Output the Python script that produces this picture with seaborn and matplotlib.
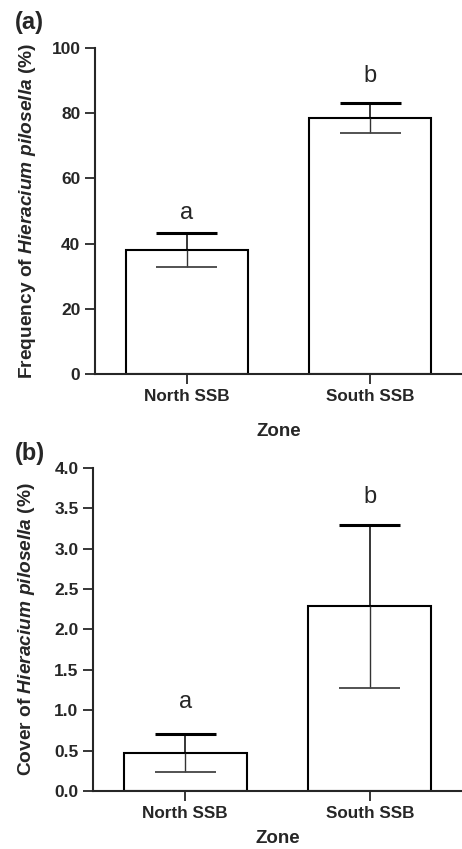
import numpy as np
import pandas as pd
import seaborn as sns
import matplotlib.pyplot as plt

zones = ["North SSB", "South SSB"]
freq_mean = [38.0, 78.5]
freq_se = [5.2, 4.6]
cover_mean = [0.47, 2.29]
cover_se = [0.23, 1.01]
letters = ["a", "b"]

sns.set_style("ticks")
plt.rcParams['font.family'] = ['Liberation Sans', 'DejaVu Sans']
plt.rcParams['mathtext.fontset'] = 'custom'
plt.rcParams['mathtext.it'] = 'Liberation Sans:italic:bold'
plt.rcParams['mathtext.rm'] = 'Liberation Sans:bold'

fig = plt.figure(figsize=(4.62, 8.49), dpi=100)
ax1 = fig.add_axes([0.2056, 0.5595, 0.7944, 0.384])
ax2 = fig.add_axes([0.2013, 0.0683, 0.7987, 0.3805])


def panel(ax, means, ses, ylim, yticks, ylabel, letter_y, xpad):
    df = pd.DataFrame({"zone": zones, "value": means})
    sns.barplot(data=df, x="zone", y="value", ax=ax, color="white",
                edgecolor="black", linewidth=1.5, width=0.665, errorbar=None)
    x = np.arange(len(zones))
    means = np.array(means)
    ses = np.array(ses)
    cap = 0.165
    # upper half of the error bar is heavier than the lower half
    ax.vlines(x, means, means + ses, color="black", linewidth=1.1)
    ax.hlines(means + ses, x - cap, x + cap, color="black", linewidth=2.2)
    ax.vlines(x, means - ses, means, color="#333333", linewidth=1.0)
    ax.hlines(means - ses, x - cap, x + cap, color="#444444", linewidth=1.3)
    for xi, ly, lt in zip(x, letter_y, letters):
        ax.text(xi, ly, lt, ha="center", va="bottom", fontsize=17)
    ax.set_xlim(-0.5, 1.5)
    ax.set_ylim(*ylim)
    ax.set_yticks(yticks)
    ax.set_ylabel(ylabel, fontsize=13.8, fontweight="bold")
    ax.set_xlabel("Zone", fontsize=13.5, fontweight="bold", labelpad=xpad)
    ax.tick_params(axis="both", width=1.3, length=7, labelsize=12.5)
    ax.tick_params(axis="x", labelsize=12.3)
    for lab in ax.get_xticklabels() + ax.get_yticklabels():
        lab.set_fontweight("bold")
    sns.despine(ax=ax)
    for sp in ["left", "bottom"]:
        ax.spines[sp].set_linewidth(1.5)


panel(ax1, freq_mean, freq_se, (0, 100), [0, 20, 40, 60, 80, 100],
      r"Frequency of $\mathit{Hieracium\ pilosella}$ (%)", [46, 88], 14)
panel(ax2, cover_mean, cover_se, (0, 4.0), np.arange(0, 4.01, 0.5),
      r"Cover of $\mathit{Hieracium\ pilosella}$ (%)", [0.97, 3.5], 7)
ax2.set_yticklabels([f"{v:.1f}" for v in np.arange(0, 4.01, 0.5)])
for lab in ax2.get_yticklabels():
    lab.set_fontweight("bold")

ax1.yaxis.set_label_coords(-0.155, 0.5)
ax2.yaxis.set_label_coords(-0.153, 0.5)

fig.text(0.032, 0.974, "(a)", fontsize=17, fontweight="bold", va="center")
fig.text(0.032, 0.466, "(b)", fontsize=17, fontweight="bold", va="center")

fig.savefig("out.png", dpi=100)
